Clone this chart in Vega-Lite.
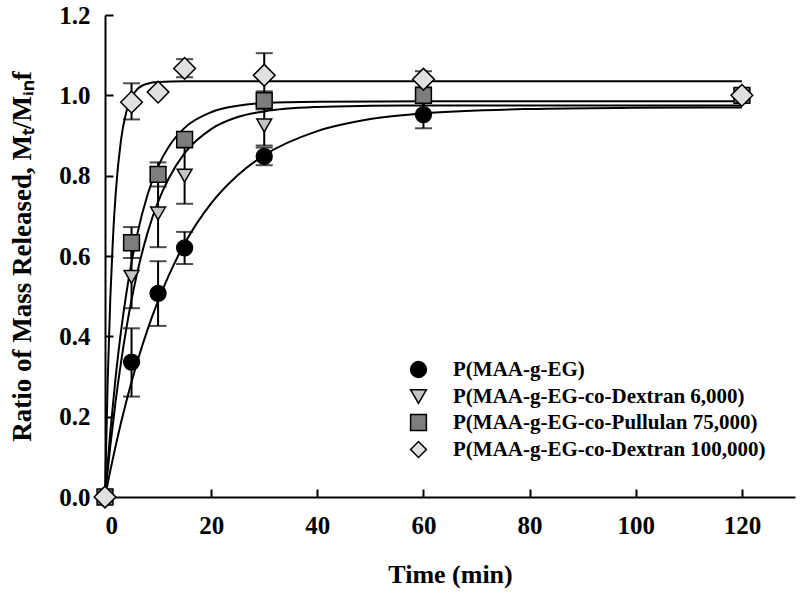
{
  "$schema": "https://vega.github.io/schema/vega-lite/v6.json",
  "width": 690,
  "height": 482,
  "autosize": {"type": "none"},
  "padding": {"left": 105, "top": 15, "right": 5, "bottom": 98},
  "background": "white",
  "config": {
    "view": {"stroke": null},
    "font": "Liberation Serif",
    "axis": {
      "grid": false,
      "domainColor": "black",
      "domainWidth": 2,
      "tickColor": "black",
      "tickWidth": 2,
      "tickSize": -8,
      "labelFont": "Liberation Serif",
      "labelFontWeight": "bold",
      "labelFontSize": 25,
      "labelColor": "black",
      "titleFont": "Liberation Serif",
      "titleFontWeight": "bold",
      "titleFontSize": 26,
      "titleColor": "black"
    },
    "legend": {"padding": 0}
  },
  "datasets": {
    "points": [
      {"series": "P(MAA-g-EG)", "t": 0, "v": 0, "lo": null, "hi": null},
      {"series": "P(MAA-g-EG)", "t": 5, "v": 0.336, "lo": 0.25, "hi": 0.42},
      {"series": "P(MAA-g-EG)", "t": 10, "v": 0.507, "lo": 0.426, "hi": 0.587},
      {"series": "P(MAA-g-EG)", "t": 15, "v": 0.62, "lo": 0.58, "hi": 0.66},
      {"series": "P(MAA-g-EG)", "t": 30, "v": 0.848, "lo": 0.826, "hi": 0.87},
      {"series": "P(MAA-g-EG)", "t": 60, "v": 0.952, "lo": 0.918, "hi": 0.99},
      {"series": "P(MAA-g-EG)", "t": 120, "v": 1.0, "lo": null, "hi": null},
      {"series": "P(MAA-g-EG-co-Dextran 6,000)", "t": 0, "v": 0, "lo": null, "hi": null},
      {"series": "P(MAA-g-EG-co-Dextran 6,000)", "t": 5, "v": 0.548, "lo": 0.47, "hi": 0.63},
      {"series": "P(MAA-g-EG-co-Dextran 6,000)", "t": 10, "v": 0.706, "lo": 0.622, "hi": 0.79},
      {"series": "P(MAA-g-EG-co-Dextran 6,000)", "t": 15, "v": 0.8, "lo": 0.73, "hi": 0.87},
      {"series": "P(MAA-g-EG-co-Dextran 6,000)", "t": 30, "v": 0.925, "lo": 0.875, "hi": 0.975},
      {"series": "P(MAA-g-EG-co-Dextran 6,000)", "t": 60, "v": 0.99, "lo": null, "hi": null},
      {"series": "P(MAA-g-EG-co-Dextran 6,000)", "t": 120, "v": 1.0, "lo": null, "hi": null},
      {"series": "P(MAA-g-EG-co-Pullulan 75,000)", "t": 0, "v": 0, "lo": null, "hi": null},
      {"series": "P(MAA-g-EG-co-Pullulan 75,000)", "t": 5, "v": 0.633, "lo": 0.595, "hi": 0.672},
      {"series": "P(MAA-g-EG-co-Pullulan 75,000)", "t": 10, "v": 0.803, "lo": 0.773, "hi": 0.833},
      {"series": "P(MAA-g-EG-co-Pullulan 75,000)", "t": 15, "v": 0.89, "lo": null, "hi": null},
      {"series": "P(MAA-g-EG-co-Pullulan 75,000)", "t": 30, "v": 0.987, "lo": 0.965, "hi": 1.01},
      {"series": "P(MAA-g-EG-co-Pullulan 75,000)", "t": 60, "v": 1.0, "lo": 0.985, "hi": 1.015},
      {"series": "P(MAA-g-EG-co-Pullulan 75,000)", "t": 120, "v": 1.0, "lo": null, "hi": null},
      {"series": "P(MAA-g-EG-co-Dextran 100,000)", "t": 0, "v": 0, "lo": null, "hi": null},
      {"series": "P(MAA-g-EG-co-Dextran 100,000)", "t": 5, "v": 0.983, "lo": 0.94, "hi": 1.03},
      {"series": "P(MAA-g-EG-co-Dextran 100,000)", "t": 10, "v": 1.008, "lo": null, "hi": null},
      {"series": "P(MAA-g-EG-co-Dextran 100,000)", "t": 15, "v": 1.067, "lo": 1.045, "hi": 1.09},
      {"series": "P(MAA-g-EG-co-Dextran 100,000)", "t": 30, "v": 1.05, "lo": 0.995, "hi": 1.105},
      {"series": "P(MAA-g-EG-co-Dextran 100,000)", "t": 60, "v": 1.04, "lo": 1.02, "hi": 1.06},
      {"series": "P(MAA-g-EG-co-Dextran 100,000)", "t": 120, "v": 1.0, "lo": null, "hi": null}
    ],
    "curves": [
      {"c": "a", "t": 0, "v": 0}, {"c": "a", "t": 1, "v": 0.066}, {"c": "a", "t": 2, "v": 0.127}, {"c": "a", "t": 3, "v": 0.184}, {"c": "a", "t": 4, "v": 0.237}, {"c": "a", "t": 5, "v": 0.286}, {"c": "a", "t": 6, "v": 0.333}, {"c": "a", "t": 8, "v": 0.416}, {"c": "a", "t": 10, "v": 0.488}, {"c": "a", "t": 12, "v": 0.551}, {"c": "a", "t": 15, "v": 0.631}, {"c": "a", "t": 20, "v": 0.731}, {"c": "a", "t": 25, "v": 0.801}, {"c": "a", "t": 30, "v": 0.851}, {"c": "a", "t": 40, "v": 0.911}, {"c": "a", "t": 50, "v": 0.941}, {"c": "a", "t": 60, "v": 0.955}, {"c": "a", "t": 80, "v": 0.966}, {"c": "a", "t": 100, "v": 0.969}, {"c": "a", "t": 120, "v": 0.97},
      {"c": "b", "t": 0, "v": 0}, {"c": "b", "t": 1, "v": 0.127}, {"c": "b", "t": 2, "v": 0.238}, {"c": "b", "t": 3, "v": 0.334}, {"c": "b", "t": 4, "v": 0.418}, {"c": "b", "t": 5, "v": 0.491}, {"c": "b", "t": 6, "v": 0.554}, {"c": "b", "t": 8, "v": 0.657}, {"c": "b", "t": 10, "v": 0.735}, {"c": "b", "t": 12, "v": 0.793}, {"c": "b", "t": 15, "v": 0.856}, {"c": "b", "t": 20, "v": 0.916}, {"c": "b", "t": 25, "v": 0.946}, {"c": "b", "t": 30, "v": 0.96}, {"c": "b", "t": 40, "v": 0.971}, {"c": "b", "t": 50, "v": 0.974}, {"c": "b", "t": 60, "v": 0.975}, {"c": "b", "t": 120, "v": 0.975},
      {"c": "c", "t": 0, "v": 0}, {"c": "c", "t": 1, "v": 0.162}, {"c": "c", "t": 2, "v": 0.298}, {"c": "c", "t": 3, "v": 0.411}, {"c": "c", "t": 4, "v": 0.505}, {"c": "c", "t": 5, "v": 0.584}, {"c": "c", "t": 6, "v": 0.65}, {"c": "c", "t": 8, "v": 0.752}, {"c": "c", "t": 10, "v": 0.823}, {"c": "c", "t": 12, "v": 0.872}, {"c": "c", "t": 15, "v": 0.919}, {"c": "c", "t": 20, "v": 0.958}, {"c": "c", "t": 25, "v": 0.974}, {"c": "c", "t": 30, "v": 0.981}, {"c": "c", "t": 40, "v": 0.984}, {"c": "c", "t": 60, "v": 0.985}, {"c": "c", "t": 120, "v": 0.985},
      {"c": "d", "t": 0, "v": 0}, {"c": "d", "t": 0.5, "v": 0.287}, {"c": "d", "t": 1, "v": 0.495}, {"c": "d", "t": 1.5, "v": 0.645}, {"c": "d", "t": 2, "v": 0.753}, {"c": "d", "t": 3, "v": 0.888}, {"c": "d", "t": 4, "v": 0.958}, {"c": "d", "t": 5, "v": 0.995}, {"c": "d", "t": 6, "v": 1.014}, {"c": "d", "t": 8, "v": 1.029}, {"c": "d", "t": 10, "v": 1.033}, {"c": "d", "t": 15, "v": 1.035}, {"c": "d", "t": 120, "v": 1.035}
    ]
  },
  "layer": [
    {
      "data": {"name": "curves"},
      "mark": {"type": "line", "color": "black", "strokeWidth": 2, "interpolate": "monotone"},
      "encoding": {
        "x": {"field": "t", "type": "quantitative", "scale": {"domain": [0, 130], "nice": false},
          "axis": {"values": [0, 20, 40, 60, 80, 100, 120], "title": "Time (min)", "labelPadding": 24, "titlePadding": 23}},
        "y": {"field": "v", "type": "quantitative", "scale": {"domain": [0, 1.2], "nice": false},
          "axis": {"values": [0, 0.2, 0.4, 0.6, 0.8, 1.0, 1.2], "format": ".1f", "title": "Ratio of Mass Released, M\u209c/M\u1d62\u2099f", "labelPadding": 23, "titlePadding": 22, "titleFontSize": 27}},
        "detail": {"field": "c"}
      }
    },
    {
      "data": {"name": "points"},
      "mark": {"type": "rule", "color": "black", "strokeWidth": 2},
      "encoding": {
        "x": {"field": "t", "type": "quantitative"},
        "y": {"field": "lo", "type": "quantitative"},
        "y2": {"field": "hi"}
      }
    },
    {
      "data": {"name": "points"},
      "mark": {"type": "tick", "orient": "horizontal", "color": "black", "thickness": 2, "size": 17},
      "encoding": {
        "x": {"field": "t", "type": "quantitative"},
        "y": {"field": "lo", "type": "quantitative"}
      }
    },
    {
      "data": {"name": "points"},
      "mark": {"type": "tick", "orient": "horizontal", "color": "black", "thickness": 2, "size": 17},
      "encoding": {
        "x": {"field": "t", "type": "quantitative"},
        "y": {"field": "hi", "type": "quantitative"}
      }
    },
    {
      "data": {"name": "points"},
      "mark": {"type": "point", "filled": true, "opacity": 1},
      "encoding": {
        "x": {"field": "t", "type": "quantitative"},
        "y": {"field": "v", "type": "quantitative"},
        "shape": {"field": "series", "type": "nominal",
          "scale": {"domain": ["P(MAA-g-EG)", "P(MAA-g-EG-co-Dextran 6,000)", "P(MAA-g-EG-co-Pullulan 75,000)", "P(MAA-g-EG-co-Dextran 100,000)"],
                    "range": ["circle", "triangle-down", "square", "diamond"]},
          "legend": {"title": null, "orient": "none", "legendX": 303, "legendY": 344, "labelFont": "Liberation Serif", "labelFontWeight": "bold", "labelFontSize": 21, "labelColor": "black", "labelLimit": 0, "symbolSize": 250, "rowPadding": 4, "labelOffset": 24,
            "encode": {"symbols": {"update": {"stroke": {"value": "black"}, "strokeWidth": {"value": 1.5}, "strokeOpacity": {"value": 1}}}}}},
        "fill": {"field": "series", "type": "nominal",
          "scale": {"domain": ["P(MAA-g-EG)", "P(MAA-g-EG-co-Dextran 6,000)", "P(MAA-g-EG-co-Pullulan 75,000)", "P(MAA-g-EG-co-Dextran 100,000)"],
                    "range": ["#000000", "#c4c4c4", "#7d7d7d", "#e0e0e0"]},
          "legend": {"title": null, "orient": "none", "legendX": 303, "legendY": 344, "labelFont": "Liberation Serif", "labelFontWeight": "bold", "labelFontSize": 21, "labelColor": "black", "labelLimit": 0, "symbolSize": 250, "rowPadding": 4, "labelOffset": 24,
            "encode": {"symbols": {"update": {"stroke": {"value": "black"}, "strokeWidth": {"value": 1.5}, "strokeOpacity": {"value": 1}}}}}},
        "stroke": {"value": "black"},
        "strokeWidth": {"value": 1.5},
        "size": {"condition": [
            {"test": "datum.series === 'P(MAA-g-EG-co-Dextran 100,000)'", "value": 470},
            {"test": "datum.series === 'P(MAA-g-EG-co-Dextran 6,000)'", "value": 220}
          ], "value": 250}
      }
    }
  ]
}
